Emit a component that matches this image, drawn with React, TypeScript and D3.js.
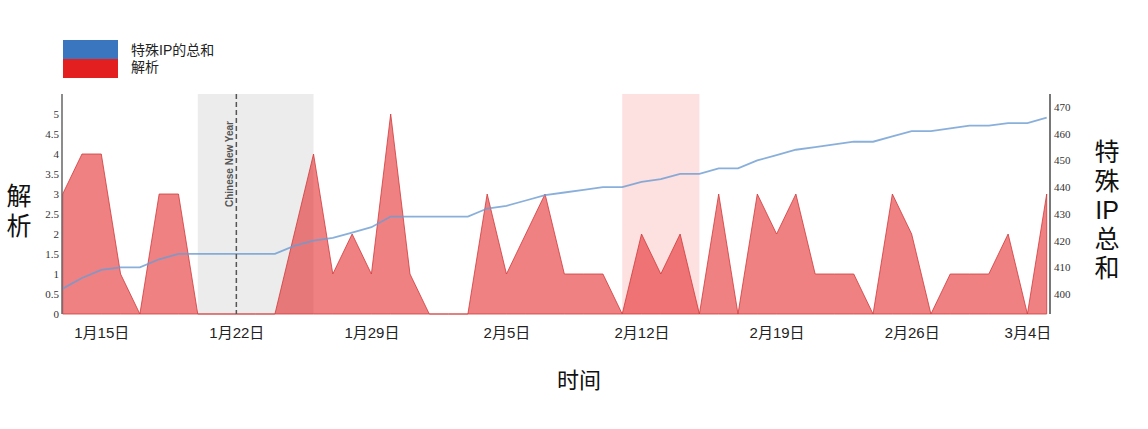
import React, { useEffect, useRef } from "react";
import * as d3 from "d3";

// one value per day, 2023-01-13 .. 2023-03-05
const days: Date[] = d3.timeDay.range(new Date(2023, 0, 13), new Date(2023, 2, 6));

const parseCounts: number[] = [
    3, 4, 4, 1, 0, 3, 3, 0, 0, 0,
    0, 0, 2, 4, 1, 2, 1, 5, 1, 0,
    0, 0, 3, 1, 2, 3, 1, 1, 1, 0,
    2, 1, 2, 0, 3, 0, 3, 2, 3, 1,
    1, 1, 0, 3, 2, 0, 1, 1, 1, 2,
    0, 3,
];

const ipTotals: number[] = [
    402, 406, 409, 410, 410, 413, 415, 415, 415, 415,
    415, 415, 418, 420, 421, 423, 425, 429, 429, 429,
    429, 429, 432, 433, 435, 437, 438, 439, 440, 440,
    442, 443, 445, 445, 447, 447, 450, 452, 454, 455,
    456, 457, 457, 459, 461, 461, 462, 463, 463, 464,
    464, 466,
];

const xTicks: Date[] = [
    new Date(2023, 0, 15),
    new Date(2023, 0, 22),
    new Date(2023, 0, 29),
    new Date(2023, 1, 5),
    new Date(2023, 1, 12),
    new Date(2023, 1, 19),
    new Date(2023, 1, 26),
    new Date(2023, 2, 4),
];
const leftTicks: number[] = [0, 0.5, 1, 1.5, 2, 2.5, 3, 3.5, 4, 4.5, 5];
const rightTicks: number[] = [400, 410, 420, 430, 440, 450, 460, 470];

const holidayBand: [Date, Date] = [new Date(2023, 0, 20), new Date(2023, 0, 26)];
const newYearDay = new Date(2023, 0, 22);
const highlightBand: [Date, Date] = [new Date(2023, 1, 11), new Date(2023, 1, 15)];

const seriesNames = ["特殊IP的总和", "解析"];
const seriesColors = ["#3a75c0", "#e3201f"];
const leftTitle = ["解", "析"];
const rightTitle = ["特", "殊", "IP", "总", "和"];

const W = 1148;
const H = 429;
const sans = "'Liberation Sans', 'Noto Sans CJK SC', sans-serif";
const cjk = "'Noto Sans CJK SC', sans-serif";
const serif = "'Liberation Serif', 'DejaVu Serif', serif";

const App: React.FC = () => {
    const svgRef = useRef<SVGSVGElement | null>(null);

    useEffect(() => {
        if (!svgRef.current) return;
        const svg = d3.select(svgRef.current);
        svg.selectAll("*").remove();

        const left = 62;
        const right = 1050;
        const top = 94;
        const bottom = 314;

        const x = d3
            .scaleTime()
            .domain([days[0], days[days.length - 1]])
            .range([62.7, 1046.7]);
        const yL = d3.scaleLinear().domain([0, 5.5]).range([bottom, top]);
        const yR = d3.scaleLinear().domain([400, 470]).range([294, 107]);

        // shaded periods
        svg.append("rect")
            .attr("x", x(holidayBand[0]))
            .attr("y", top)
            .attr("width", x(holidayBand[1]) - x(holidayBand[0]))
            .attr("height", bottom - top)
            .attr("fill", "#ececec");
        svg.append("rect")
            .attr("x", x(highlightBand[0]))
            .attr("y", top)
            .attr("width", x(highlightBand[1]) - x(highlightBand[0]))
            .attr("height", bottom - top)
            .attr("fill", "#fde0e0");

        // 解析 area
        const area = d3
            .area<number>()
            .x((_, i) => x(days[i]))
            .y0(yL(0))
            .y1((d) => yL(d));
        svg.append("path")
            .datum(parseCounts)
            .attr("d", area)
            .attr("fill", "#e41a1c")
            .attr("fill-opacity", 0.55)
            .attr("stroke", "#d0393b")
            .attr("stroke-width", 1)
            .attr("stroke-opacity", 0.8);

        // 特殊IP总和 line
        const line = d3
            .line<number>()
            .x((_, i) => x(days[i]))
            .y((d) => yR(d));
        svg.append("path")
            .datum(ipTotals)
            .attr("d", line)
            .attr("fill", "none")
            .attr("stroke", "#6b9bd2")
            .attr("stroke-opacity", 0.8)
            .attr("stroke-width", 1.8);

        // Chinese New Year marker
        svg.append("line")
            .attr("x1", x(newYearDay))
            .attr("x2", x(newYearDay))
            .attr("y1", top)
            .attr("y2", bottom)
            .attr("stroke", "#555")
            .attr("stroke-width", 1.5)
            .attr("stroke-dasharray", "5,3");
        svg.append("text")
            .attr("transform", `translate(${x(newYearDay) - 3},164) rotate(-90)`)
            .attr("text-anchor", "middle")
            .attr("font-family", sans)
            .attr("font-size", 10)
            .attr("font-weight", "bold")
            .attr("fill", "#555")
            .text("Chinese New Year");

        // left axis
        svg.append("g")
            .attr("transform", `translate(${left},0)`)
            .call(
                d3
                    .axisLeft(yL)
                    .tickValues(leftTicks)
                    .tickSize(0)
                    .tickPadding(3)
                    .tickFormat((d) => String(d))
            )
            .call((g) => g.select(".domain").remove())
            .call((g) =>
                g.selectAll("text").attr("font-family", serif).attr("font-size", 11).attr("fill", "#333")
            );
        svg.append("line")
            .attr("x1", left)
            .attr("x2", left)
            .attr("y1", top)
            .attr("y2", bottom)
            .attr("stroke", "#666")
            .attr("stroke-width", 1.5);

        // right axis
        svg.append("g")
            .attr("transform", `translate(${right},0)`)
            .call(d3.axisRight(yR).tickValues(rightTicks).tickSize(0).tickPadding(4))
            .call((g) => g.select(".domain").remove())
            .call((g) =>
                g.selectAll("text").attr("font-family", serif).attr("font-size", 11).attr("fill", "#333")
            );
        svg.append("line")
            .attr("x1", right)
            .attr("x2", right)
            .attr("y1", top)
            .attr("y2", bottom)
            .attr("stroke", "#777")
            .attr("stroke-width", 2);

        // bottom axis labels
        svg.append("g")
            .attr("transform", `translate(0,${bottom})`)
            .call(
                d3
                    .axisBottom(x)
                    .tickValues(xTicks)
                    .tickSize(0)
                    .tickPadding(13)
                    .tickFormat((d) => {
                        const dt = d as Date;
                        return `${dt.getMonth() + 1}月${dt.getDate()}日`;
                    })
            )
            .call((g) => g.select(".domain").remove())
            .call((g) =>
                g.selectAll("text").attr("font-family", sans).attr("font-size", 15).attr("fill", "#222")
            );

        // axis titles
        svg.append("text")
            .attr("x", 579)
            .attr("y", 388)
            .attr("text-anchor", "middle")
            .attr("font-family", cjk)
            .attr("font-size", 22)
            .attr("fill", "#111")
            .text("时间");

        // stacked vertical titles
        svg.append("g")
            .selectAll("text")
            .data(leftTitle)
            .join("text")
            .attr("x", 19)
            .attr("y", (_, i) => 205 + i * 30)
            .attr("text-anchor", "middle")
            .attr("font-family", sans)
            .attr("font-size", 25)
            .attr("fill", "#111")
            .text((d) => d);

        svg.append("g")
            .selectAll("text")
            .data(rightTitle)
            .join("text")
            .attr("x", 1107)
            .attr("y", (_, i) => 161 + i * 29)
            .attr("text-anchor", "middle")
            .attr("font-family", sans)
            .attr("font-size", 25)
            .attr("fill", "#111")
            .text((d) => d);

        // legend
        const legend = svg.append("g");
        legend
            .selectAll("rect")
            .data(seriesNames)
            .join("rect")
            .attr("x", 63)
            .attr("y", (_, i) => 40 + i * 19)
            .attr("width", 55)
            .attr("height", 19)
            .attr("fill", (_, i) => seriesColors[i]);
        legend
            .selectAll("text")
            .data(seriesNames)
            .join("text")
            .attr("x", 131)
            .attr("y", (_, i) => 55 + i * 17)
            .attr("font-family", sans)
            .attr("font-size", 14)
            .attr("fill", "#222")
            .text((d) => d);
    }, []);

    return (
        <div style={{ position: "absolute", left: 0, top: 0, background: "#fff" }}>
            <svg ref={svgRef} width={W} height={H} style={{ display: "block" }}></svg>
        </div>
    );
};

export default App;
